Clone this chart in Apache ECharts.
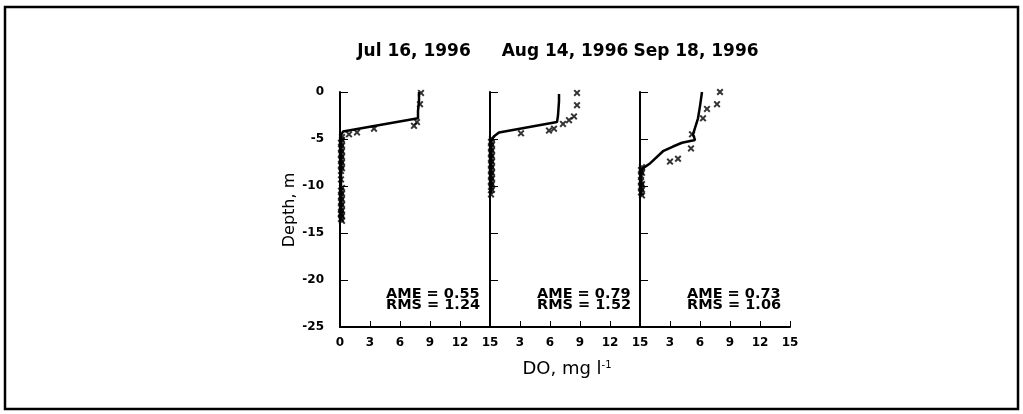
<!DOCTYPE html>
<html>
<head>
<meta charset="utf-8">
<script src="https://cdn.jsdelivr.net/npm/echarts@6/dist/echarts.min.js"></script>
<style>
  html, body { margin: 0; padding: 0; background: #fff; }
  #chart { width: 1023px; height: 414px; }
</style>
</head>
<body>
<div id="chart"></div>
<script>
// Survey dates, one panel each
const panelTitles = ['Jul 16, 1996', 'Aug 14, 1996', 'Sep 18, 1996'];
const ameValues = ['0.55', '0.79', '0.73'];
const rmsValues = ['1.24', '1.52', '1.06'];

// Axis ranges / ticks (depth below surface in m, drawn downward and labelled as negative elevation)
const doTicks = [0, 3, 6, 9, 12, 15];
const depthTicks = [0, 5, 10, 15, 20, 25];

// Simulated dissolved-oxygen profiles (DO in mg/l, depth in m)
const julModelDO    = [7.9, 7.9, 7.8, 7.8, 0.3, 0.1, 0.1, 0.1, 0.1];
const julModelDepth = [0, 1.0, 2.0, 2.8, 4.2, 4.6, 6.0, 10.0, 13.6];
const augModelDO    = [6.9, 6.9, 6.8, 6.7, 0.9, 0.4, 0.1, 0.1, 0.1];
const augModelDepth = [0.2, 1.0, 2.5, 3.2, 4.3, 4.7, 5.2, 8.0, 10.8];
const sepModelDO    = [6.2, 6.0, 5.8, 5.3, 5.5, 4.2, 3.3, 2.3, 1.0, 0.3, 0.1, 0.1];
const sepModelDepth = [0, 1.5, 2.8, 4.5, 5.1, 5.4, 5.8, 6.3, 7.6, 8.1, 8.5, 11.0];

// Measured profiles
const julObsDO = [8.1, 8.0, 7.7, 7.4, 3.4, 1.7, 0.9,
  0.2, 0.2, 0.1, 0.2, 0.1, 0.2, 0.1, 0.2, 0.1, 0.2, 0.1, 0.2, 0.1,
  0.1,
  0.2, 0.1, 0.2, 0.1, 0.2, 0.1, 0.2, 0.1, 0.2, 0.1, 0.2, 0.1, 0.2, 0.1];
const julObsDepth = [0.1, 1.3, 3.2, 3.6, 3.9, 4.3, 4.5,
  4.8, 5.1, 5.4, 5.7, 6.0, 6.3, 6.6, 6.9, 7.2, 7.5, 7.8, 8.1, 8.4,
  9.3,
  10.2, 10.5, 10.8, 11.1, 11.4, 11.7, 12.0, 12.3, 12.6, 12.9, 13.2, 13.5, 13.7, 13.0];
const augObsDO = [8.7, 8.7, 8.4, 7.9, 7.3, 6.4, 5.9, 3.1,
  0.2, 0.1, 0.2, 0.1, 0.2, 0.1, 0.2, 0.1, 0.2, 0.1, 0.2, 0.1, 0.2, 0.1, 0.2, 0.1, 0.2, 0.1, 0.2, 0.1];
const augObsDepth = [0.1, 1.4, 2.6, 3.0, 3.4, 3.9, 4.1, 4.4,
  5.0, 5.3, 5.6, 5.9, 6.2, 6.5, 6.8, 7.1, 7.4, 7.7, 8.0, 8.3, 8.6, 8.9, 9.2, 9.5, 9.8, 10.1, 10.4, 10.9];
const sepObsDO = [8.0, 7.7, 6.7, 6.3, 5.2, 5.1, 3.8, 3.0,
  0.2, 0.1, 0.2, 0.1, 0.2, 0.1, 0.2, 0.1, 0.2, 0.1];
const sepObsDepth = [0, 1.3, 1.8, 2.8, 4.5, 6.0, 7.1, 7.4,
  8.0, 8.3, 8.6, 8.9, 9.8, 10.1, 10.4, 10.7, 11.0, 9.5];

const modelDO = [julModelDO, augModelDO, sepModelDO];
const modelDepth = [julModelDepth, augModelDepth, sepModelDepth];
const obsDO = [julObsDO, augObsDO, sepObsDO];
const obsDepth = [julObsDepth, augObsDepth, sepObsDepth];

const pairs = (xs, ys) => xs.map((v, i) => [v, ys[i]]);

const FONT = 'DejaVu Sans';
const gridLeft = [340, 490, 640];
const gridWidth = 150;
const gridTop = 92;
const gridHeight = 235;
const nPanels = panelTitles.length;

// heavy "x" marker
const crossSymbol = 'path://M0,2L2,0L5,3L8,0L10,2L7,5L10,8L8,10L5,7L2,10L0,8L3,5Z';

const grids = [], xAxes = [], yAxes = [], helperAxes = [], series = [], graphics = [];

panelTitles.forEach((title, i) => {
  grids.push({ left: gridLeft[i], top: gridTop, width: gridWidth, height: gridHeight });
  xAxes.push({
    type: 'value', gridIndex: i,
    min: doTicks[0], max: doTicks[doTicks.length - 1], interval: doTicks[1] - doTicks[0],
    // the DO axis sits on the zero of a hidden helper axis whose zero is at the panel bottom
    axisLine: { show: true, onZero: true, onZeroAxisIndex: nPanels + i, lineStyle: { color: '#000', width: 2 } },
    axisTick: { show: true, inside: true, length: 6, lineStyle: { color: '#000' } },
    splitLine: { show: false },
    axisLabel: {
      color: '#000', fontFamily: FONT, fontWeight: 'bold', fontSize: 12, margin: 10,
      formatter: v => (i > 0 && v === 0) ? '' : String(v)
    }
  });
  yAxes.push({
    type: 'value', gridIndex: i, inverse: true, position: 'left',
    min: depthTicks[0], max: depthTicks[depthTicks.length - 1], interval: depthTicks[1] - depthTicks[0],
    axisLine: { show: true, lineStyle: { color: '#000', width: 2 } },
    axisTick: { show: true, inside: true, length: 8, lineStyle: { color: '#000' } },
    splitLine: { show: false },
    axisLabel: {
      show: i === 0, color: '#000', fontFamily: FONT, fontWeight: 'bold', fontSize: 12, margin: 16,
      formatter: v => (v === 0 ? '0' : '-' + v)
    }
  });
  helperAxes.push({
    type: 'value', gridIndex: i, show: false, min: 0, max: 1, position: 'right'
  });
  series.push({
    type: 'line', xAxisIndex: i, yAxisIndex: i,
    data: pairs(modelDO[i], modelDepth[i]),
    showSymbol: false, symbol: 'none',
    lineStyle: { color: '#000', width: 2.5 },
    animation: false, z: 3
  });
  series.push({
    type: 'scatter', xAxisIndex: i, yAxisIndex: i,
    data: pairs(obsDO[i], obsDepth[i]),
    symbol: crossSymbol, symbolSize: 7,
    itemStyle: { color: '#000' },
    animation: false, z: 4
  });
});

const titleCenters = [414, 565, 696];
const statLeft = [386, 537, 687];

panelTitles.forEach((title, i) => {
  graphics.push({
    type: 'text', x: titleCenters[i], y: 52,
    style: { text: title, font: 'bold 17px "' + FONT + '"', fill: '#000', align: 'center', verticalAlign: 'middle' }
  });
  graphics.push({
    type: 'text', x: statLeft[i], y: 294,
    style: { text: 'AME = ' + ameValues[i], font: 'bold 14.5px "' + FONT + '"', fill: '#000', align: 'left', verticalAlign: 'middle' }
  });
  graphics.push({
    type: 'text', x: statLeft[i], y: 305,
    style: { text: 'RMS = ' + rmsValues[i], font: 'bold 14.5px "' + FONT + '"', fill: '#000', align: 'left', verticalAlign: 'middle' }
  });
});

// baseline under the three panels
graphics.push({
  type: 'line', silent: true,
  shape: { x1: gridLeft[0], y1: gridTop + gridHeight, x2: gridLeft[nPanels - 1] + gridWidth, y2: gridTop + gridHeight },
  style: { stroke: '#000', lineWidth: 2 }
});

// axis titles
graphics.push({
  type: 'text', x: 290, y: 210, rotation: Math.PI / 2,
  style: { text: 'Depth, m', font: '16px "' + FONT + '"', fill: '#000', align: 'center', verticalAlign: 'middle' }
});
graphics.push({
  type: 'text', x: 567, y: 369,
  style: {
    text: '{a|DO, mg l}{s|-1}',
    rich: {
      a: { font: '18px "' + FONT + '"', color: '#000' },
      s: { font: '10px "' + FONT + '"', color: '#000', verticalAlign: 'top', padding: [0, 0, 8, 0] }
    },
    align: 'center', verticalAlign: 'middle'
  }
});

// frame around the figure
graphics.push({
  type: 'rect', shape: { x: 5, y: 7, width: 1013, height: 402 },
  style: { fill: 'none', stroke: '#000', lineWidth: 2.5 }, silent: true
});

const chart = echarts.init(document.getElementById('chart'), null, { renderer: 'canvas' });
chart.setOption({
  animation: false,
  backgroundColor: '#fff',
  grid: grids,
  xAxis: xAxes,
  yAxis: yAxes.concat(helperAxes),
  series: series,
  graphic: graphics
});
</script>
</body>
</html>
